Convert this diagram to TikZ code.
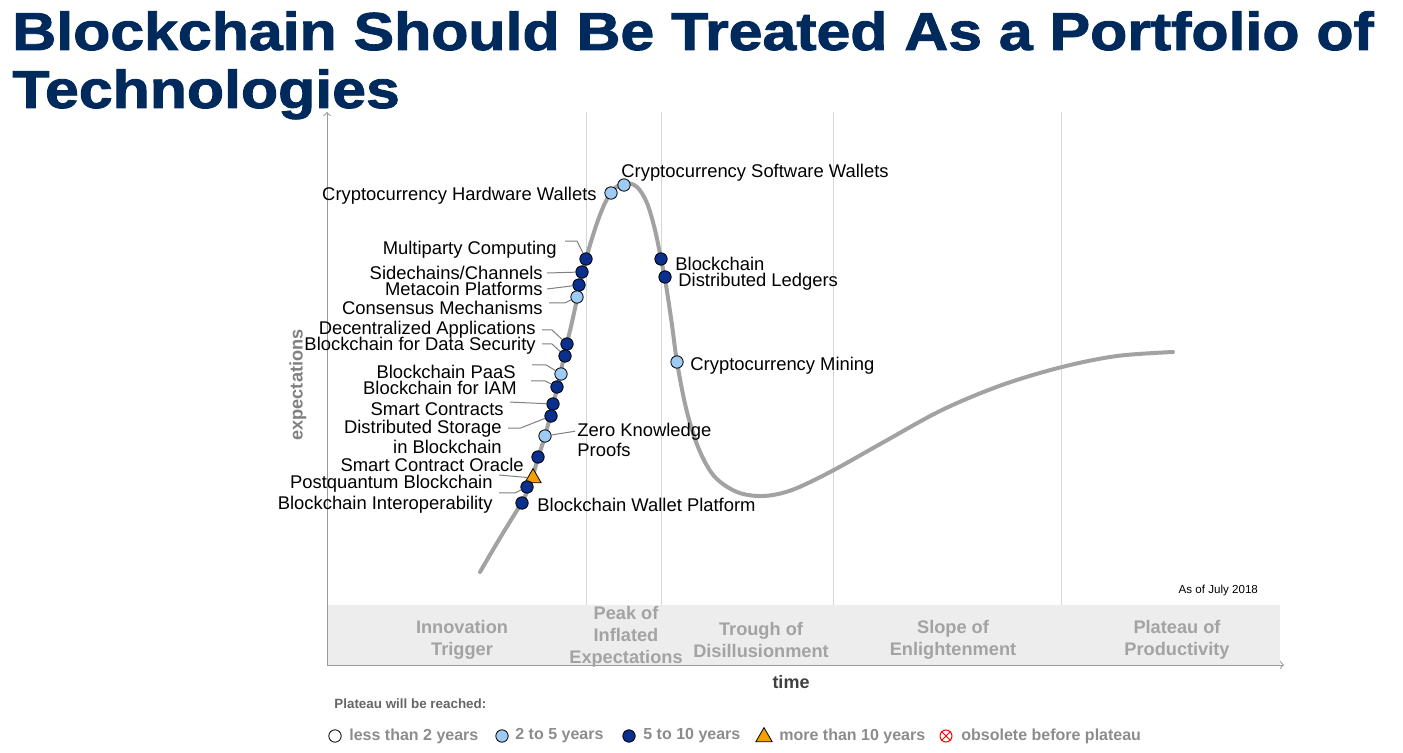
\documentclass[tikz,border=0pt]{standalone}
\usepackage{graphicx}
\usepackage{fontspec}
\setmainfont{Liberation Sans}
\newfontfamily\titlefont[BoldFeatures={FakeBold=1.6}]{Liberation Sans}
\usetikzlibrary{shapes.geometric}

\definecolor{titleblue}{HTML}{002A5C}
\definecolor{darkdot}{HTML}{0B2F8C}
\definecolor{lightdot}{HTML}{9DCBF4}
\definecolor{trifill}{HTML}{F5A000}
\definecolor{phasegray}{HTML}{A3A3A3}
\definecolor{bandgray}{HTML}{EDEDED}
\definecolor{gridgray}{HTML}{D6D6D6}
\definecolor{curvegray}{HTML}{A2A2A2}
\definecolor{axisgray}{HTML}{9A9A9A}
\definecolor{legendgray}{HTML}{8C8C8C}

\begin{document}
\begin{tikzpicture}[x=0.5pt, y=-0.5pt,
  lbl/.style={font=\fontsize{9.2}{9.6}\selectfont, inner sep=1pt},
  lead/.style={draw=gray, line width=0.5pt},
  darkpt/.style={circle, draw=black, fill=darkdot, line width=0.4pt, inner sep=0pt, minimum size=6.2pt},
  lightpt/.style={darkpt, fill=lightdot},
  whitept/.style={darkpt, fill=white},
  tript/.style={regular polygon, regular polygon sides=3, draw=black, fill=trifill, line width=0.4pt, inner sep=0pt, minimum size=9.4pt},
  phase/.style={font=\bfseries\fontsize{9.1}{11}\selectfont, text=phasegray, align=center},
  legend/.style={font=\bfseries\fontsize{8}{9}\selectfont, text=legendgray, anchor=west, inner sep=0pt},
  headline/.style={anchor=base west, inner sep=0, text=titleblue, font=\titlefont\bfseries\fontsize{30.4}{34}\selectfont}]
  \useasboundingbox (0,0) rectangle (1403,753);

  % Title
  \node[headline] (title1) at (12,50) {\scalebox{1}[0.88]{Blockchain Should Be Treated As a Portfolio of}};
  \node[headline] (title2) at (12,108) {\scalebox{1}[0.88]{Technologies}};

  % Phase band and grid
  \fill[bandgray] (327,605) rectangle (1280,665);
  \foreach \gx in {586,661,833,1061}
    \draw[gridgray, line width=0.5pt] (\gx,112) -- (\gx,605);

  % Axes
  \draw[->, axisgray, line width=0.5pt] (327,665) -- (1284,665);
  \draw[->, axisgray, line width=0.5pt] (327,665) -- (327,112);
  \node[rotate=90, font=\bfseries\fontsize{9.1}{10}\selectfont, text=gray] (ylab) at (298,385) {expectations};
  \node[font=\bfseries\fontsize{9}{10}\selectfont, text=black!75] (xlab) at (791,682) {time};
  \node[font=\fontsize{5.8}{6}\selectfont, anchor=east] (asof) at (1265,590) {As of July 2018};

  % Phase labels
  \node[phase] (trigger) at (462,640) {Innovation\\Trigger};
  \node[phase] (peak) at (626,637) {Peak of\\Inflated\\Expectations};
  \node[phase] (trough) at (761,640) {Trough of\\Disillusionment};
  \node[phase] (slope) at (953,640) {Slope of\\Enlightenment};
  \node[phase] (plateau) at (1177,640) {Plateau of\\Productivity};

  % Hype curve
  \draw[curvegray, line width=2pt, line cap=round] plot[smooth, tension=0.55] coordinates {
    (480,572) (497,543) (511,520) (522,502) (530,485) (538,458) (545,436)
    (553,405) (559,380) (565,352) (572,322) (579,290) (586,259) (596,226)
    (605,203) (614,189) (625,183) (637,187) (647,203) (655,230) (661,259)
    (666,285) (672,325) (677,362) (686,408) (698,447) (714,476) (737,492)
    (763,496) (792,490) (832,471) (882,443) (942,410) (1002,385) (1062,367)
    (1117,356) (1173,352)};

  % Points on the rise
  \node[lightpt] (hwd) at (611,193) {};
  \node[lightpt] (swd) at (624,185) {};
  \node[darkpt] (mpcd) at (586,259) {};
  \node[darkpt] (sided) at (582,272) {};
  \node[darkpt] (metad) at (579,285) {};
  \node[lightpt] (consd) at (577,297) {};
  \node[darkpt] (decd) at (567,344) {};
  \node[darkpt] (secd) at (565,356) {};
  \node[lightpt] (paasd) at (561,374) {};
  \node[darkpt] (iamd) at (557,387) {};
  \node[darkpt] (scd) at (553,404) {};
  \node[darkpt] (dsd) at (551,416) {};
  \node[lightpt] (zkd) at (545,436) {};
  \node[darkpt] (orad) at (538,457) {};
  \node[tript] (pqt) at (533,478) {};
  \node[darkpt] (pqd) at (527,487) {};
  \node[darkpt] (interd) at (522,503) {};

  % Points past the peak
  \node[darkpt] (bcd) at (661,259) {};
  \node[darkpt] (dld) at (665,277) {};
  \node[lightpt] (mind) at (677,362) {};

  % Labels on the rise
  \node[lbl, anchor=east] (hw) at (599,196) {Cryptocurrency Hardware Wallets};
  \node[lbl, anchor=west] (sw) at (619,173) {Cryptocurrency Software Wallets};
  \node[lbl, anchor=east] (mpc) at (559,250) {Multiparty Computing};
  \node[lbl, anchor=east] (side) at (545,273) {Sidechains/Channels};
  \node[lbl, anchor=east] (meta) at (545,289) {Metacoin Platforms};
  \node[lbl, anchor=east] (cons) at (545,308) {Consensus Mechanisms};
  \node[lbl, anchor=east] (dec) at (538,330) {Decentralized Applications};
  \node[lbl, anchor=east] (sec) at (538,346) {Blockchain for Data Security};
  \node[lbl, anchor=east] (paas) at (518,372) {Blockchain PaaS};
  \node[lbl, anchor=east] (iam) at (519,388) {Blockchain for IAM};
  \node[lbl, anchor=east] (sc) at (506,409) {Smart Contracts};
  \node[lbl, anchor=east, align=right] (ds) at (504,437) {Distributed Storage\\in Blockchain};
  \node[lbl, anchor=west, align=left] (zk) at (575,440) {Zero Knowledge\\Proofs};
  \node[lbl, anchor=east] (ora) at (526,465) {Smart Contract Oracle};
  \node[lbl, anchor=east] (pq) at (495,484) {Postquantum Blockchain};
  \node[lbl, anchor=east] (inter) at (495,505) {Blockchain Interoperability};
  \node[lbl, anchor=west] (wallet) at (535,505) {Blockchain Wallet Platform};

  % Labels past the peak
  \node[lbl, anchor=west] (bc) at (673,264) {Blockchain};
  \node[lbl, anchor=west] (dl) at (676,282) {Distributed Ledgers};
  \node[lbl, anchor=west] (min) at (688,366) {Cryptocurrency Mining};

  % Leaders
  \draw[lead] ([xshift=3pt,yshift=-1pt]mpc.north east) -- ++(12,0) -- (mpcd);
  \draw[lead] ([xshift=1pt]side.east) -- (sided);
  \draw[lead] ([xshift=1pt]meta.east) -- (metad);
  \draw[lead] ([xshift=2pt,yshift=-2pt]cons.north east) -- ++(16,0) -- (consd);
  \draw[lead] ([xshift=2pt]dec.east) -- ++(10,0) -- (decd);
  \draw[lead] ([xshift=2pt,yshift=1pt]sec.east) -- ++(10,0) -- (secd);
  \draw[lead] ([xshift=7pt,yshift=-1pt]paas.north east) -- ++(14,0) -- (paasd);
  \draw[lead] ([xshift=6pt,yshift=-1pt]iam.north east) -- ++(14,0) -- (iamd);
  \draw[lead] ([xshift=2pt,yshift=-1pt]sc.north east) -- (scd);
  \draw[lead] ([xshift=2pt,yshift=-5pt]ds.north east) -- ++(12,0) -- (dsd);
  \draw[lead] (zkd) -- ([yshift=-5pt]zk.north west);
  \draw[lead] ([xshift=2pt,yshift=-1pt]pq.north east) -- (pqt);
  \draw[lead] ([xshift=2pt,yshift=1pt]pq.south east) -- ++(16,0) -- (pqd);

  % Legend
  \node[anchor=west, inner sep=0, font=\bfseries\fontsize{6.7}{7}\selectfont, text=black!60] (reach) at (334,704) {Plateau will be reached:};
  \node[whitept] (lg1) at (335,736) {};
  \node[legend] (lt1) at (349,736) {less than 2 years};
  \node[lightpt] (lg2) at (502,736) {};
  \node[legend] (lt2) at (515,736) {2 to 5 years};
  \node[darkpt] (lg3) at (629,736) {};
  \node[legend] (lt3) at (643,736) {5 to 10 years};
  \node[tript] (lg4) at (764,737) {};
  \node[legend] (lt4) at (779,736) {more than 10 years};
  \node[circle, draw=red, line width=0.5pt, inner sep=0pt, minimum size=6pt] (lg5) at (946,736) {};
  \draw[red, line width=0.5pt] (lg5.north west) -- (lg5.south east) (lg5.north east) -- (lg5.south west);
  \node[legend] (lt5) at (961,736) {obsolete before plateau};
\end{tikzpicture}
\end{document}
